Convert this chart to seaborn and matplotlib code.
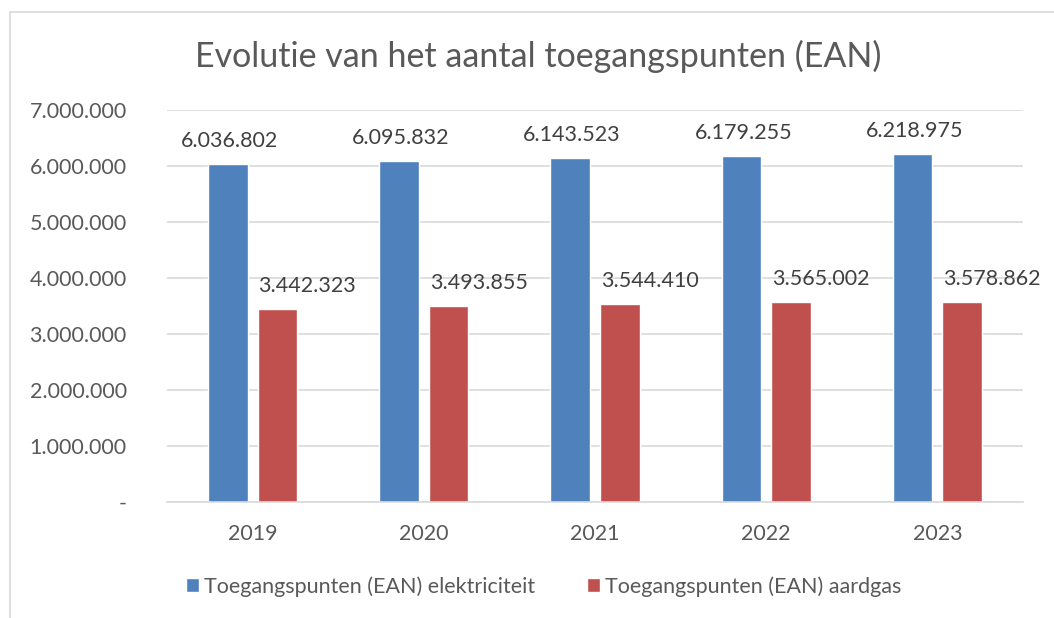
import numpy as np
import pandas as pd
import matplotlib.pyplot as plt
import seaborn as sns
from matplotlib.patches import Rectangle
from matplotlib.ticker import FuncFormatter

# data
years = ["2019", "2020", "2021", "2022", "2023"]
elektriciteit = [6036802, 6095832, 6143523, 6179255, 6218975]
aardgas = [3442323, 3493855, 3544410, 3565002, 3578862]
series_names = ["Toegangspunten (EAN) elektriciteit", "Toegangspunten (EAN) aardgas"]

df = pd.DataFrame({
    "jaar": years * 2,
    "waarde": elektriciteit + aardgas,
    "reeks": [series_names[0]] * len(years) + [series_names[1]] * len(years),
})

sns.set_theme(style="white")
plt.rcParams["font.family"] = ["Lato", "DejaVu Sans"]
txt = "#595959"
grid = "#D9D9D9"
fs = 15.5

fig = plt.figure(figsize=(10.54, 6.18), dpi=100)
ax = fig.add_axes([0.1584, 0.1877, 0.8122, 0.6343])

sns.barplot(data=df, x="jaar", y="waarde", hue="reeks",
            palette=["#4F81BD", "#C0504D"], width=0.58, gap=0.2,
            ax=ax, saturation=1, legend=True)

ax.set_ylim(0, 7000000)
ax.set_yticks(np.arange(0, 7000001, 1000000))
ax.yaxis.set_major_formatter(FuncFormatter(
    lambda v, p: "-" if v == 0 else f"{int(v):,}".replace(",", ".")))
ax.grid(axis="y", color=grid, linewidth=1.2)
ax.set_axisbelow(True)
for s in ["top", "right", "left"]:
    ax.spines[s].set_visible(False)
ax.spines["bottom"].set_color(grid)
ax.spines["bottom"].set_linewidth(1.2)
ax.tick_params(axis="y", length=0, labelsize=fs, colors=txt, pad=29)
ax.tick_params(axis="x", length=0, labelsize=fs, colors=txt, pad=16)
ax.set_xlabel("")
ax.set_ylabel("")

# data labels, red ones sit a bit to the right like in the original
offsets = [2, 30]
for cont, dx in zip(ax.containers, offsets):
    for bar in cont:
        h = bar.get_height()
        ax.annotate(f"{int(h):,}".replace(",", "."),
                    (bar.get_x() + bar.get_width() / 2, h),
                    xytext=(dx, 13), textcoords="offset pixels",
                    ha="center", va="bottom", fontsize=fs, color="#404040")

fig.suptitle("Evolutie van het aantal toegangspunten (EAN)", x=0.511, y=0.935,
             fontsize=24.5, color=txt)

leg = ax.legend(loc="upper center", bbox_to_anchor=(0.44, -0.14), ncol=2,
                frameon=False, fontsize=fs, handlelength=0.6, handleheight=0.6,
                handletextpad=0.25, columnspacing=2.4)
for t in leg.get_texts():
    t.set_color(txt)

# outer chart frame (partly cut off like the screenshot)
fig.patches.append(Rectangle((10, -10), 1100, 616, transform=None,
                             fill=False, edgecolor=grid, linewidth=1.2))

fig.savefig("out.png", dpi=100)
